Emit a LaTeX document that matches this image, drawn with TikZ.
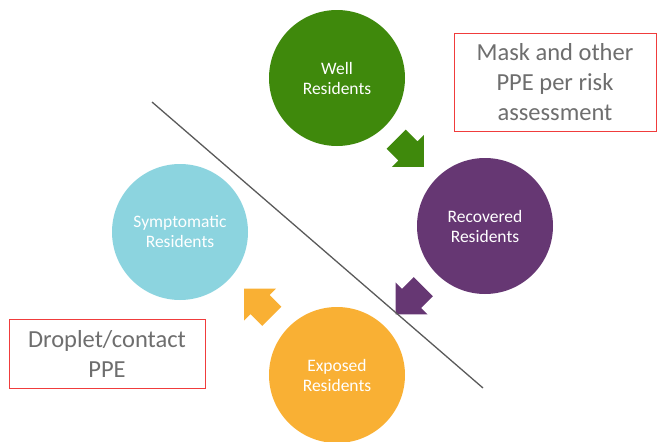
\documentclass[tikz,border=0pt]{standalone}
\usepackage{fontspec}
\setmainfont{Carlito}
\usetikzlibrary{positioning}
\definecolor{wellgreen}{RGB}{63,137,12}
\definecolor{recpurple}{RGB}{102,55,115}
\definecolor{sympcyan}{RGB}{140,212,223}
\definecolor{expgold}{RGB}{249,176,52}
\definecolor{boxred}{RGB}{240,60,60}
\definecolor{boxtext}{RGB}{110,110,110}
\definecolor{cutline}{RGB}{90,90,90}

\begin{document}
\begin{tikzpicture}[x=1pt, y=-1pt, node distance=0.1cm,
  state/.style={circle,fill=#1,minimum size=136pt,inner sep=0pt,text=white,
    align=center,font=\fontsize{17.5}{20}\selectfont},
  flow/.pic={\fill [#1] (-19.5,-13.5) -- (-3,-13.5) -- (-3,-22.5) -- (19.5,0)
    -- (-3,22.5) -- (-3,13.5) -- (-19.5,13.5) -- cycle;},
  note/.style={draw=boxred,line width=0.9pt,text=boxtext,align=center,
    font=\fontsize{24.5}{30}\selectfont}]
\useasboundingbox (0,0) rectangle (657,442);

% residents
\node [state=wellgreen] (well) at (337,78) {Well\\Residents};
\node [state=recpurple] (recovered) at (485,226) {Recovered\\Residents};
\node [state=expgold] (exposed) at (337,375) {Exposed\\Residents};
\node [state=sympcyan] (symptomatic) at (180,232) {Symptomatic\\Residents};

% arrows
\pic [rotate=-45] at (410,153) {flow=wellgreen};
\pic [rotate=-135] at (409.5,300.5) {flow=recpurple};
\pic [rotate=135] at (258,302.5) {flow=expgold};

% dividing line
\coordinate (cut1) at (152,102);
\coordinate (cut2) at (483,388);
\draw [cutline, line width=1.3pt] (cut1) -- (cut2);

% ppe notes
\node [note, minimum width=202pt, minimum height=98pt] (mask) at (555,82)
  {Mask and other\\PPE per risk\\assessment};
\node [note, minimum width=196pt, minimum height=69pt] (droplet) at (107,353.5)
  {Droplet/contact\\PPE};

\end{tikzpicture}
\end{document}
